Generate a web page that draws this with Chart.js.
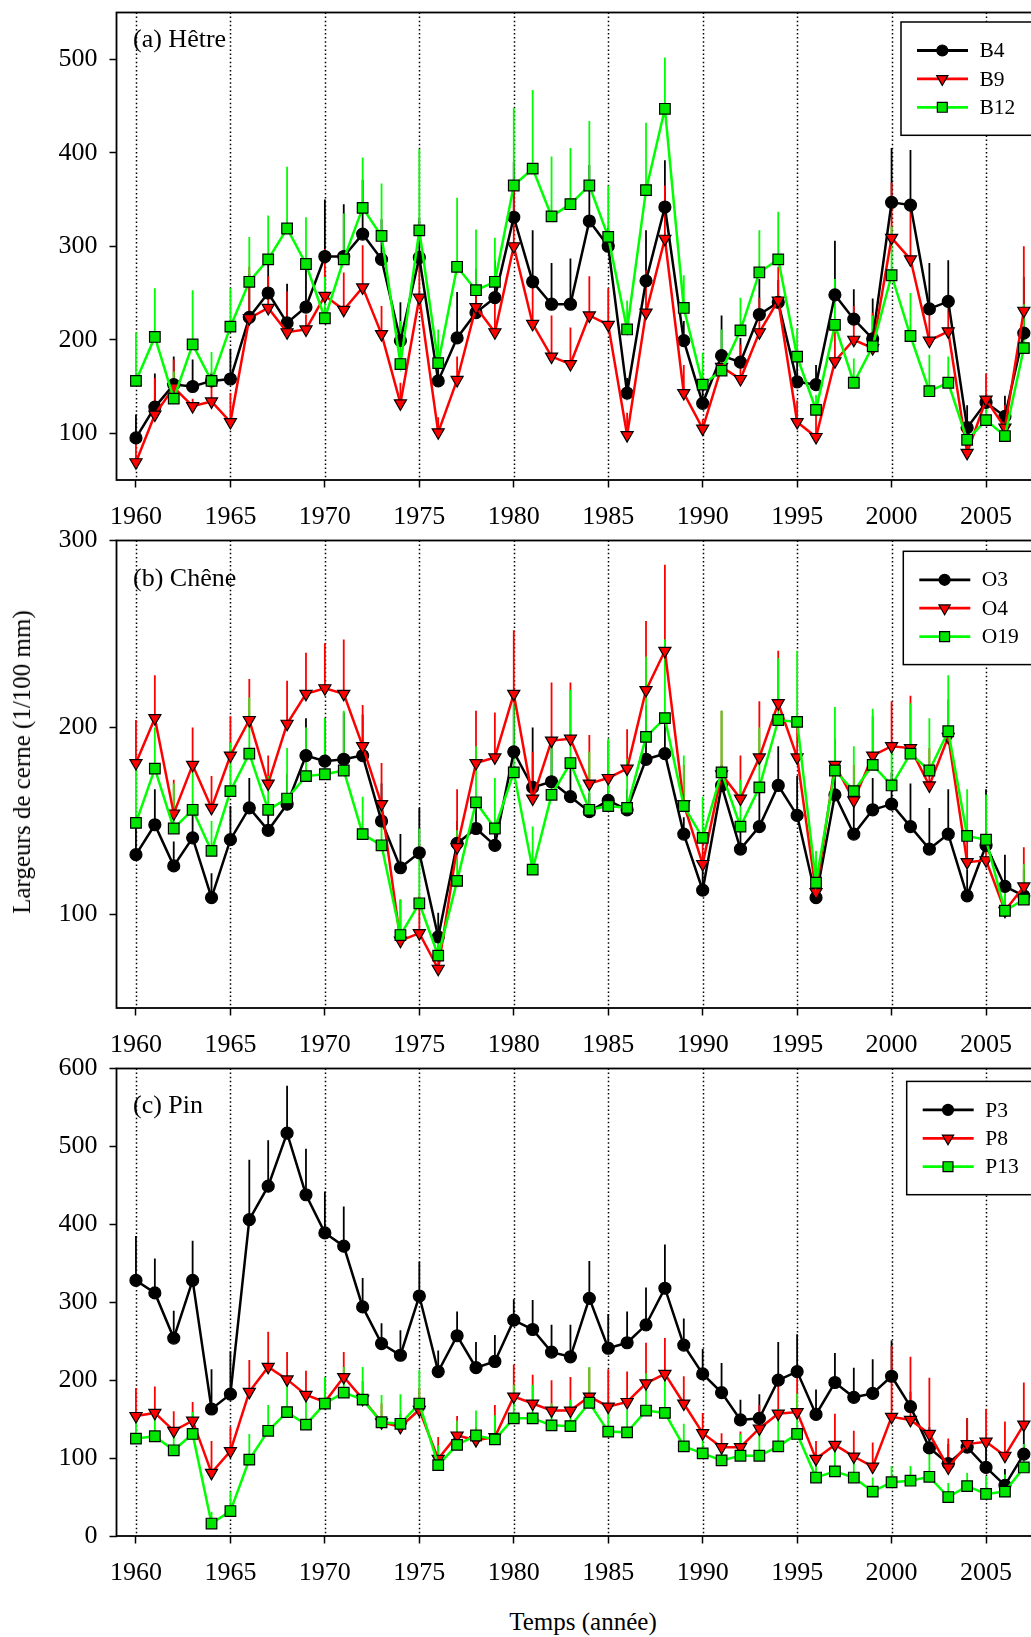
<!DOCTYPE html>
<html>
<head>
<meta charset="utf-8">
<title>Largeurs de cerne</title>
<script src="https://cdn.jsdelivr.net/npm/chart.js@4.4.1/dist/chart.umd.min.js"></script>
<style>
  html, body { margin: 0; padding: 0; background: #ffffff; }
  body { width: 1031px; height: 1637px; position: relative; overflow: hidden;
         font-family: "Liberation Serif", "Times New Roman", serif; color: #000; }
  canvas { position: absolute; left: 0; }
  .ytitle { position: absolute; left: 22px; top: 762px; font-size: 25px; white-space: nowrap;
            transform: translate(-50%, -50%) rotate(-90deg); }
  .xtitle { position: absolute; left: 583px; top: 1622px; font-size: 25px; white-space: nowrap;
            transform: translate(-50%, -50%); }
</style>
</head>
<body>
<canvas id="panelA" width="1031" height="535" style="top:0px"></canvas>
<canvas id="panelB" width="1031" height="535" style="top:528px"></canvas>
<canvas id="panelC" width="1031" height="535" style="top:1056px"></canvas>
<div class="ytitle">Largeurs de cerne (1/100 mm)</div>
<div class="xtitle">Temps (année)</div>

<script>
// Years of measurement
const years = [];
for (let y = 1960; y <= 2007; y++) years.push(y);
const yearTicks = [1960, 1965, 1970, 1975, 1980, 1985, 1990, 1995, 2000, 2005];

// (a) Hêtre — mean ring width and standard deviation (1/100 mm)
const B4    = [95,128,152,150,156,158,224,250,218,235,289,289,313,286,199,288,156,202,229,245,331,262,238,238,327,300,143,263,342,199,132,183,176,227,240,155,152,248,222,201,347,344,233,241,106,133,118,207];
const B4_sd = [25,36,30,29,9,32,46,32,42,45,61,56,58,43,41,42,30,49,47,40,59,55,44,49,60,20,16,54,50,21,20,43,26,38,24,25,21,58,32,43,58,59,49,44,24,8,22,60];
const B9    = [69,120,149,129,134,112,223,234,208,211,247,232,256,206,132,245,101,157,235,208,300,217,182,174,226,216,98,229,308,143,105,171,158,208,242,112,96,177,200,191,309,286,199,209,79,136,106,231];
const B9_sd = [25,39,30,8,16,31,55,34,44,16,50,40,45,30,22,37,16,25,14,37,61,47,44,39,42,39,24,45,57,30,10,9,37,37,36,23,27,32,36,38,59,61,40,29,18,28,24,69];
const B12    = [156,203,137,195,156,214,262,286,319,281,223,286,341,311,174,317,175,278,253,262,365,383,332,345,365,310,211,360,447,234,152,167,210,272,286,182,125,216,154,193,269,204,145,154,93,114,97,191];
const B12_sd = [52,52,29,58,31,41,48,47,66,50,44,49,54,56,46,87,36,74,65,47,83,84,64,60,69,55,31,72,55,35,34,44,35,45,51,30,16,49,26,33,52,46,39,28,15,21,19,47];

// (b) Chêne
const O3    = [132,148,126,141,109,140,157,145,159,185,182,183,185,150,125,133,88,138,146,137,187,168,171,163,155,161,156,183,186,143,113,169,135,147,169,153,109,164,143,156,159,147,135,143,110,137,115,110];
const O3_sd = [15,19,13,15,13,18,16,12,16,20,23,25,22,20,18,24,13,12,12,10,27,32,21,18,10,15,11,29,19,9,14,11,14,18,21,21,11,17,19,17,17,23,22,24,14,30,17,14];
const O4    = [181,205,154,180,157,185,204,170,202,218,221,218,190,159,86,90,71,136,181,184,218,162,193,194,170,173,178,220,241,159,127,175,162,184,213,184,112,180,161,185,190,189,169,195,128,129,102,115];
const O4_sd = [23,23,18,20,17,21,22,15,23,22,24,29,22,22,22,20,13,31,28,24,34,25,31,30,26,20,21,37,46,21,16,34,23,30,28,19,13,14,19,21,24,28,20,20,15,14,13,21];
const O19    = [149,178,146,156,134,166,186,156,162,174,175,177,143,137,89,106,78,118,160,146,176,124,164,181,156,158,157,195,205,158,141,176,147,168,204,203,117,177,166,180,169,186,177,198,142,140,102,108];
const O19_sd = [29,22,24,25,16,26,30,18,27,26,30,32,20,19,19,40,11,27,30,27,38,23,26,39,31,36,26,43,42,27,22,33,25,32,33,38,17,34,24,30,20,27,28,30,25,24,14,19];

// (c) Pin
const P3    = [328,312,254,328,163,182,406,449,517,438,389,372,294,247,232,308,211,257,216,224,277,265,236,230,305,241,248,271,318,245,208,184,149,151,200,211,156,197,178,183,205,166,113,93,114,88,65,105];
const P3_sd = [57,44,35,51,51,55,77,59,61,59,53,51,37,26,32,44,27,31,33,34,27,38,35,41,48,44,40,48,56,34,32,38,26,31,49,48,32,38,38,44,46,19,27,25,37,30,21,35];
const P8    = [154,158,135,148,81,109,185,217,201,181,172,204,176,146,140,162,99,129,123,127,179,170,161,161,179,166,172,196,208,170,132,114,114,138,157,159,99,117,102,89,153,149,131,88,118,121,103,143];
const P8_sd = [36,34,25,24,41,31,41,45,35,31,31,32,23,24,17,28,28,25,17,41,41,37,39,43,37,48,39,52,46,35,26,18,20,30,44,46,23,40,33,31,91,81,72,37,33,42,44,54];
const P13    = [125,128,110,131,16,32,98,135,159,143,170,184,175,146,144,170,91,117,129,124,151,151,142,141,171,134,133,161,158,115,106,97,103,103,115,131,75,83,75,57,69,71,76,50,64,54,57,88];
const P13_sd = [28,34,23,28,15,25,33,33,46,32,34,33,42,35,38,43,25,31,32,31,43,43,28,34,46,32,29,48,48,29,29,21,28,37,48,52,21,29,19,18,21,19,29,18,17,23,22,30];

// Y-axis tick labels per panel
const ticksA = [100, 200, 300, 400, 500];
const ticksB = [100, 200, 300];
const ticksC = [0, 100, 200, 300, 400, 500, 600];

const FONT = '"Liberation Serif", "Times New Roman", serif';
Chart.defaults.font.family = FONT;
Chart.defaults.color = '#000';

// Three series styles shared by all panels
const STYLES = [
  { line: '#000000', fill: '#000000', shape: 'circle',   radius: 6,   rotation: 0,   order: 3 },
  { line: '#ff0000', fill: '#ff0000', shape: 'triangle', radius: 7,   rotation: 180, order: 2 },
  { line: '#00ff00', fill: '#00e600', shape: 'rect',     radius: 7.5, rotation: 0,   order: 1 }
];

function drawMarker(ctx, st, x, y, r) {
  ctx.save();
  ctx.fillStyle = st.fill;
  ctx.strokeStyle = '#000';
  ctx.lineWidth = 1.2;
  ctx.beginPath();
  if (st.shape === 'circle') {
    ctx.arc(x, y, r, 0, Math.PI * 2);
  } else if (st.shape === 'triangle') {
    const s = r * Math.sin(Math.PI / 3);
    ctx.moveTo(x, y + r);
    ctx.lineTo(x - s, y - r / 2);
    ctx.lineTo(x + s, y - r / 2);
    ctx.closePath();
  } else {
    const h = r * Math.SQRT1_2;
    ctx.rect(x - h, y - h, 2 * h, 2 * h);
  }
  ctx.fill();
  ctx.stroke();
  ctx.restore();
}

// Remove the automatic label overhang so the plot frame sits at fixed pixels
function noScalePadding(s) {
  s.paddingTop = 0;
  s.paddingBottom = 0;
  s.paddingLeft = 0;
  s.paddingRight = 0;
}

function makePanel(id, p) {
  const datasets = p.series.map((s, k) => {
    const st = STYLES[k];
    return {
      label: s.name,
      data: years.map((x, i) => ({ x: x, y: s.mean[i] })),
      borderColor: st.line,
      backgroundColor: st.fill,
      borderWidth: 2.5,
      pointStyle: st.shape,
      pointRadius: st.radius,
      pointRotation: st.rotation,
      pointBackgroundColor: st.fill,
      pointBorderColor: '#000',
      pointBorderWidth: 1.2,
      tension: 0,
      order: st.order
    };
  });

  const panelPlugin = {
    id: 'panelDecor' + id,
    beforeDatasetsDraw(chart) {
      const { ctx, chartArea: a, scales } = chart;
      ctx.save();
      // dotted vertical guides every five years
      ctx.strokeStyle = '#000';
      ctx.lineWidth = 1.5;
      ctx.setLineDash([1.5, 2.6]);
      yearTicks.forEach(v => {
        const x = Math.round(scales.x.getPixelForValue(v)) + 0.5;
        ctx.beginPath();
        ctx.moveTo(x, a.top);
        ctx.lineTo(x, a.bottom);
        ctx.stroke();
      });
      ctx.setLineDash([]);
      // upward standard deviation bars
      ctx.beginPath();
      ctx.rect(a.left, a.top, a.right - a.left, a.bottom - a.top);
      ctx.clip();
      ctx.lineWidth = 1.8;
      [0, 1, 2].forEach(k => {
        const s = p.series[k];
        ctx.strokeStyle = STYLES[k].line;
        years.forEach((yr, i) => {
          const x = scales.x.getPixelForValue(yr);
          const y0 = scales.y.getPixelForValue(s.mean[i]);
          const y1 = scales.y.getPixelForValue(s.mean[i] + s.sd[i]);
          ctx.beginPath();
          ctx.moveTo(x, y0);
          ctx.lineTo(x, y1);
          ctx.stroke();
        });
      });
      ctx.restore();
    },
    afterDraw(chart) {
      const { ctx, chartArea: a } = chart;
      ctx.save();
      // plot frame
      ctx.strokeStyle = '#000';
      ctx.lineWidth = 1.8;
      ctx.strokeRect(a.left, a.top, a.right - a.left + 20, a.bottom - a.top);
      // panel title
      ctx.fillStyle = '#000';
      ctx.font = '26px ' + FONT;
      ctx.textBaseline = 'middle';
      ctx.textAlign = 'left';
      ctx.fillText(p.title, 133, p.titleY);
      // legend
      const lx = p.legendX, ly = p.legendY;
      ctx.fillStyle = '#fff';
      ctx.fillRect(lx, ly, 200, 113.3);
      ctx.lineWidth = 1.5;
      ctx.strokeRect(lx, ly, 200, 113.3);
      ctx.font = '21.5px ' + FONT;
      p.series.forEach((s, k) => {
        const st = STYLES[k];
        const ry = ly + 28.5 + 28.4 * k;
        ctx.strokeStyle = st.line;
        ctx.lineWidth = 2.8;
        ctx.beginPath();
        ctx.moveTo(lx + 16, ry);
        ctx.lineTo(lx + 67, ry);
        ctx.stroke();
        drawMarker(ctx, st, lx + 41.3, ry, st.radius - 0.5);
        ctx.fillStyle = '#000';
        ctx.fillText(s.name, lx + 78.5, ry + 1);
      });
      ctx.restore();
    }
  };

  return new Chart(document.getElementById(id), {
    type: 'line',
    data: { datasets },
    options: {
      responsive: false,
      animation: false,
      events: [],
      layout: { autoPadding: false, padding: { top: 12.5, left: 0, right: 0, bottom: 0 } },
      plugins: { legend: { display: false }, tooltip: { enabled: false }, title: { display: false } },
      scales: {
        x: {
          type: 'linear',
          min: 1958.97,
          max: 2007.38,
          afterBuildTicks: s => { s.ticks = yearTicks.map(v => ({ value: v })); },
          afterFit: s => { s.height = 55; noScalePadding(s); },
          ticks: { callback: v => String(v), font: { size: 26 }, color: '#000', padding: 14,
                   maxRotation: 0, autoSkip: false },
          grid: { drawOnChartArea: false, drawTicks: true, tickLength: 7.5, tickWidth: 1.5,
                  tickColor: '#000', color: '#000' },
          border: { display: false }
        },
        y: {
          type: 'linear',
          min: p.yMin,
          max: p.yMax,
          afterBuildTicks: s => { s.ticks = p.yTicks.map(v => ({ value: v })); },
          afterFit: s => { s.width = 116.5; noScalePadding(s); },
          ticks: { callback: v => String(v), font: { size: 26 }, color: '#000', padding: 12,
                   autoSkip: false },
          grid: { drawOnChartArea: false, drawTicks: true, tickLength: 7, tickWidth: 1.5,
                  tickColor: '#000', color: '#000' },
          border: { display: false }
        }
      }
    },
    plugins: [panelPlugin]
  });
}

makePanel('panelA', {
  title: '(a) Hêtre', titleY: 39.7,
  yMin: 50, yMax: 550, yTicks: ticksA,
  legendX: 901, legendY: 22,
  series: [
    { name: 'B4',  mean: B4,  sd: B4_sd },
    { name: 'B9',  mean: B9,  sd: B9_sd },
    { name: 'B12', mean: B12, sd: B12_sd }
  ]
});

makePanel('panelB', {
  title: '(b) Chêne', titleY: 51,
  yMin: 50, yMax: 300, yTicks: ticksB,
  legendX: 903.3, legendY: 23.3,
  series: [
    { name: 'O3',  mean: O3,  sd: O3_sd },
    { name: 'O4',  mean: O4,  sd: O4_sd },
    { name: 'O19', mean: O19, sd: O19_sd }
  ]
});

makePanel('panelC', {
  title: '(c) Pin', titleY: 50.5,
  yMin: 0, yMax: 600, yTicks: ticksC,
  legendX: 906.7, legendY: 25.4,
  series: [
    { name: 'P3',  mean: P3,  sd: P3_sd },
    { name: 'P8',  mean: P8,  sd: P8_sd },
    { name: 'P13', mean: P13, sd: P13_sd }
  ]
});
</script>
</body>
</html>
